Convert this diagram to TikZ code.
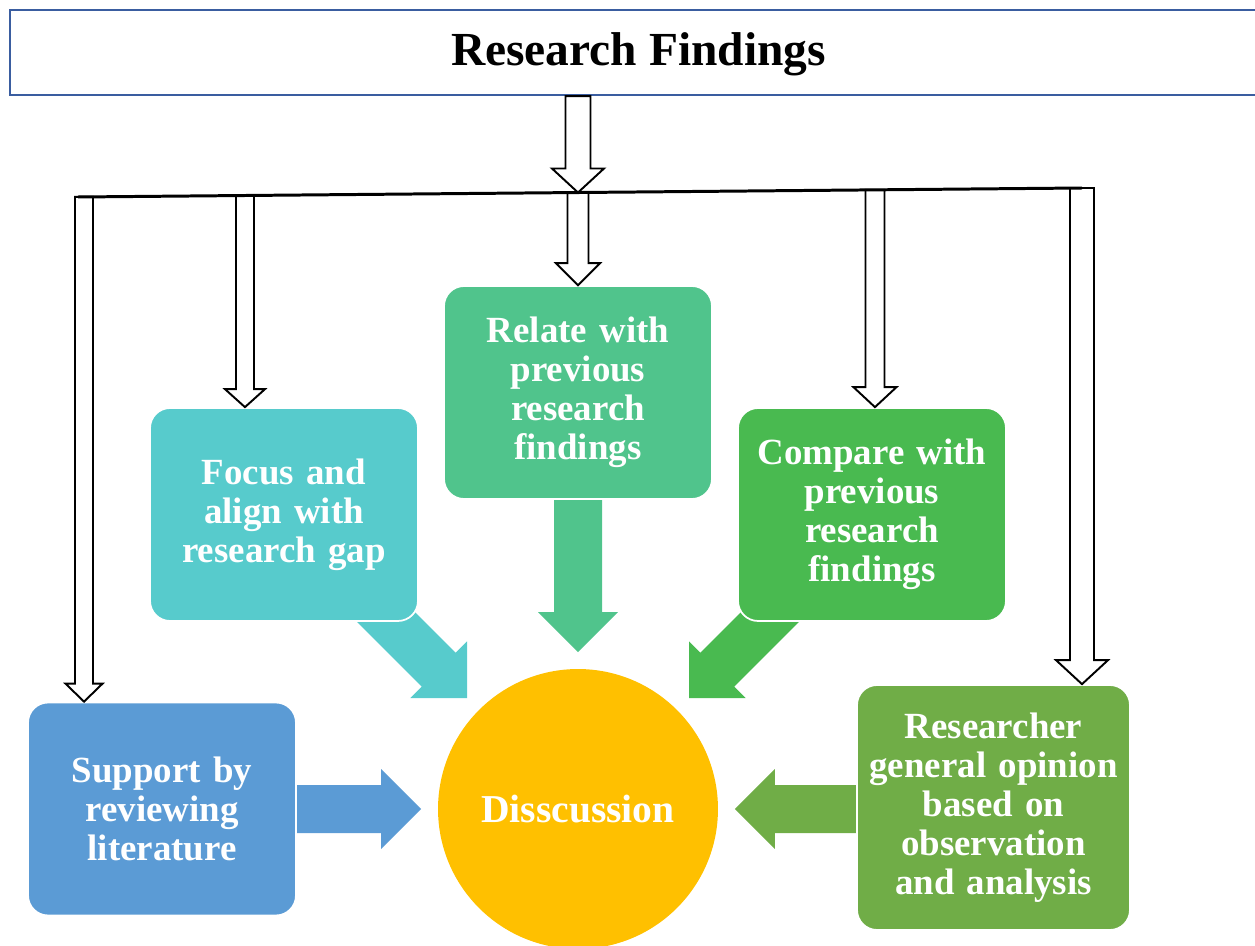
\documentclass[tikz,border=0pt]{standalone}
\usepackage{fontspec}
\setmainfont{Liberation Serif}
\usetikzlibrary{calc,backgrounds}

\definecolor{titleblue}{HTML}{3A5DA0}
\definecolor{focuscol}{HTML}{57CBCC}
\definecolor{relatecol}{HTML}{50C48C}
\definecolor{comparecol}{HTML}{49BA50}
\definecolor{supportcol}{HTML}{5B9BD5}
\definecolor{rescol}{HTML}{70AD47}
\definecolor{disccol}{HTML}{FFC000}

\tikzset{
  titlebox/.style={draw=titleblue, line width=1.2pt, minimum width=25.14cm,
    minimum height=1.7cm, inner sep=0pt, text height=18pt, text depth=3.4pt,
    font=\bfseries\fontsize{27}{30}\selectfont},
  box/.style={rounded corners=0.4cm, draw=white, line width=1pt, text=white,
    font=\bfseries\fontsize{21}{22.2}\selectfont, align=center, inner sep=0pt,
    minimum width=5.36cm, minimum height=4.26cm, text width=5.2cm},
  disc/.style={circle, fill=disccol, minimum size=5.6cm, inner sep=0pt, outer sep=0pt,
    text=white, font=\bfseries\fontsize{22.5}{24}\selectfont},
  hollow/.style={draw=black, fill=white, line width=1.1pt, line join=miter},
  barline/.style={draw=black, line width=1.7pt},
}

% outlined down arrow: start, tip, shaft half width, head half width, head length
\newcommand\hollowarrow[5]{%
  \draw[hollow] let \p1=(#1), \p2=(#2) in
    (\x1-#3,\y1) -- (\x1-#3,\y2+#5) -- (\x1-#4,\y2+#5) -- (\x1,\y2)
    -- (\x1+#4,\y2+#5) -- (\x1+#3,\y2+#5) -- (\x1+#3,\y1) -- cycle;}

% solid block arrow from #1 to tip #2 in colour #3
\newcommand\blockarrow[3]{%
  \coordinate (hb) at ($(#2)!0.8cm!(#1)$);
  \fill[#3] ($(#1)!0.48cm!90:(#2)$) -- ($(hb)!0.48cm!90:(#2)$)
    -- ($(hb)!0.8cm!90:(#2)$) -- (#2) -- ($(hb)!0.8cm!-90:(#2)$)
    -- ($(hb)!0.48cm!-90:(#2)$) -- ($(#1)!0.48cm!-90:(#2)$) -- cycle;}

\begin{document}
\begin{tikzpicture}[x=0.02cm, y=-0.02cm]
  \useasboundingbox (0,0) rectangle (1255,946);

  % header
  \node[titlebox] (title) at (638.5,52.5) {Research Findings};

  % boxes and centre
  \node[box, fill=focuscol]   (foc) at (284,514.5) {Focus and\\align with\\research gap};
  \node[box, fill=relatecol]  (rel) at (578,392.5) {Relate with\\previous\\research\\findings};
  \node[box, fill=comparecol] (cmp) at (872,514.5) {Compare with\\previous\\research\\findings};
  \node[box, fill=supportcol] (sup) at (162,809) {Support by\\reviewing\\literature};
  \node[box, fill=rescol, minimum width=5.46cm, minimum height=4.9cm] (res) at (993.5,807.5)
    {Researcher\\general opinion\\based on\\observation\\and analysis};
  \node[disc] (disc) at (578,809) {Disscussion};

  % block arrows into the centre
  \begin{scope}[on background layer]
    \coordinate (a1) at ($(disc.135)!-3.24cm!(disc.center)$);
    \coordinate (t1) at ($(disc.135)!-0.34cm!(disc.center)$);
    \blockarrow{a1}{t1}{focuscol}
    \coordinate (a2) at ($(rel.south)+(0,-10)$);
    \coordinate (t2) at ($(disc.north)!-0.34cm!(disc.center)$);
    \blockarrow{a2}{t2}{relatecol}
    \coordinate (a3) at ($(disc.45)!-3.24cm!(disc.center)$);
    \coordinate (t3) at ($(disc.45)!-0.34cm!(disc.center)$);
    \blockarrow{a3}{t3}{comparecol}
    \coordinate (a4) at ($(sup.east |- disc.west)+(-10,0)$);
    \coordinate (t4) at ($(disc.west)!-0.34cm!(disc.center)$);
    \blockarrow{a4}{t4}{supportcol}
    \coordinate (a5) at ($(res.west |- disc.east)+(10,0)$);
    \coordinate (t5) at ($(disc.east)!-0.34cm!(disc.center)$);
    \blockarrow{a5}{t5}{rescol}
  \end{scope}

  % distribution bar and outlined arrows
  \coordinate (bar-l) at (78,197);
  \coordinate (bar-r) at (1082,188);
  \coordinate (b1) at ($(bar-l)!0.006!(bar-r)$);
  \coordinate (b2) at ($(bar-l)!0.1663!(bar-r)$);
  \coordinate (b3) at ($(bar-l)!0.498!(bar-r)$);
  \coordinate (b4) at ($(bar-l)!0.7938!(bar-r)$);
  \coordinate (b5) at (bar-r);

  \hollowarrow{b3 |- title.south}{b3}{0.25cm}{0.52cm}{0.48cm}
  \hollowarrow{b1}{b1 |- sup.north}{0.18cm}{0.37cm}{0.36cm}
  \hollowarrow{b2}{b2 |- foc.north}{0.18cm}{0.40cm}{0.36cm}
  \hollowarrow{b3}{b3 |- rel.north}{0.21cm}{0.44cm}{0.44cm}
  \hollowarrow{b4}{b4 |- cmp.north}{0.19cm}{0.43cm}{0.40cm}
  \hollowarrow{b5}{b5 |- res.north}{0.24cm}{0.52cm}{0.48cm}

  \draw[barline] (bar-l) -- (bar-r);
\end{tikzpicture}
\end{document}
